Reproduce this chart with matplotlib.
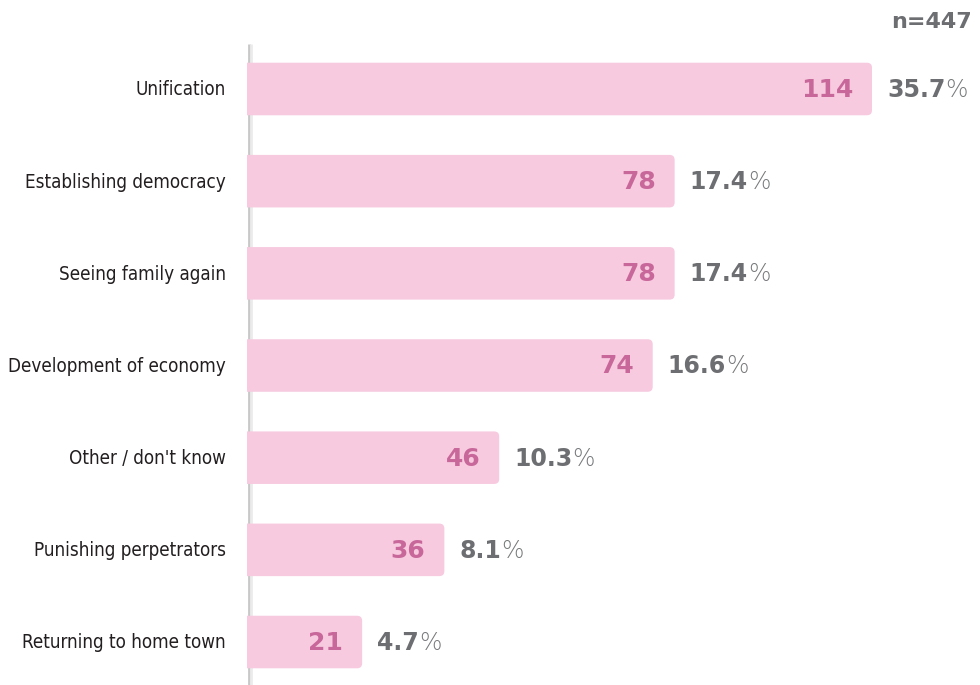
import matplotlib.pyplot as plt
from matplotlib.patches import FancyBboxPatch

# Survey answers, counts and share labels
categories = ["Unification", "Establishing democracy", "Seeing family again",
              "Development of economy", "Other / don't know",
              "Punishing perpetrators", "Returning to home town"]
counts = [114, 78, 78, 74, 46, 36, 21]
shares = ["35.7", "17.4", "17.4", "16.6", "10.3", "8.1", "4.7"]
total_n = 447

bar_color = "#f7cadf"
count_color = "#c8679a"
share_color = "#6d6e71"

W, H = 980, 685
fig = plt.figure(figsize=(W / 100, H / 100), dpi=100)

left_px, right_px = 247, 980
top_px, bottom_px = 40, 685
ax = fig.add_axes([left_px / W, 1 - bottom_px / H,
                   (right_px - left_px) / W, (bottom_px - top_px) / H])

px_per_unit = (872 - left_px) / 114
row_px = 92.17
ax.set_xlim(0, (right_px - left_px) / px_per_unit)
ax.set_ylim((bottom_px - 89) / row_px, -(89 - top_px) / row_px)
ax.axis("off")

# light grey axis line, mostly hidden behind the bars
ux = 1 / px_per_unit
ax.plot([1.5 * ux, 1.5 * ux], [-0.49, 6.5], color="#c8c8c8", lw=2.0, zorder=1,
        solid_capstyle="butt")
ax.plot([4.0 * ux, 4.0 * ux], [-0.49, 6.5], color="#ebebeb", lw=2.0, zorder=1,
        solid_capstyle="butt")

bar_h = 0.57
aspect = (1 / row_px) / ux
for i, (v, s) in enumerate(zip(counts, shares)):
    patch = FancyBboxPatch((-3, i - bar_h / 2), v + 3, bar_h,
                           boxstyle="round,pad=0,rounding_size=%f" % (5 * ux),
                           mutation_aspect=aspect, fc=bar_color, ec="none",
                           zorder=2)
    ax.add_patch(patch)
    ax.text(v - 19 * ux, i + 0.01, str(v), ha="right", va="center",
            fontsize=18, fontweight="bold", family="DejaVu Sans",
            color=count_color, zorder=3)
    t = ax.text(v + 15 * ux, i + 0.01, s, ha="left", va="center",
                fontsize=17, fontweight="bold", family="DejaVu Sans",
                color=share_color, zorder=3)
    ax.annotate("%", xy=(1, 0), xycoords=t, ha="left", va="bottom",
                fontsize=17, family="DejaVu Sans", fontweight="light",
                color="#77787b")
    ax.text(-21 * ux, i + 0.01, categories[i], ha="right", va="center",
            fontsize=13.5, family="DejaVu Sans", fontstretch="condensed",
            color="#231f20", clip_on=False)

fig.text(972 / W, 1 - 22 / H, "n=%d" % total_n, ha="right", va="center",
         fontsize=16, fontweight="bold", family="DejaVu Sans",
         color=share_color)

fig.savefig("out.png", dpi=100)
